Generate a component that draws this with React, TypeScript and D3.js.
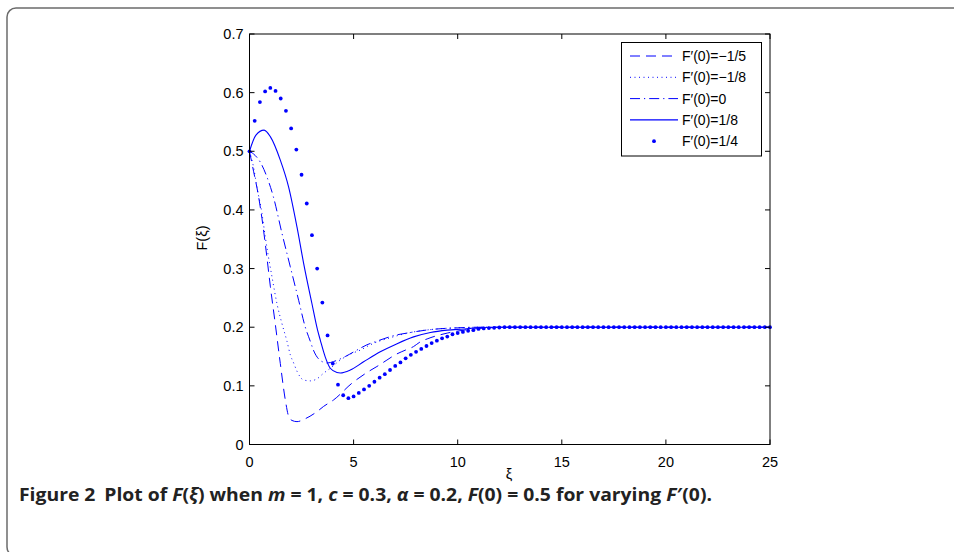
import React from "react";
import * as d3 from "d3";

// ---- data ----
const XI_DASH = [0, 0.2, 0.4, 0.6, 0.8, 1.0, 1.24, 1.48, 1.72, 1.88, 2.04, 2.28, 2.68, 3.24, 3.56, 4.04, 4.92, 5.72, 6.12, 6.6, 7.0, 7.49, 7.88, 8.2, 8.53, 9.5, 10.5, 11.5, 12.5, 25];
const F_DASH = [0.5, 0.465, 0.43, 0.385, 0.33, 0.27, 0.205, 0.138, 0.076, 0.048, 0.041, 0.039, 0.044, 0.056, 0.065, 0.076, 0.1045, 0.1245, 0.133, 0.144, 0.153, 0.161, 0.167, 0.175, 0.18, 0.19, 0.196, 0.199, 0.2, 0.2];

const XI_DOT = [0, 0.2, 0.35, 0.6, 0.75, 0.91, 1.08, 1.32, 1.56, 1.8, 1.96, 2.12, 2.28, 2.6, 2.92, 3.24, 3.56, 3.88, 4.36, 4.84, 5.32, 5.8, 6.85, 7.88, 9.0, 10.0, 11.0, 25];
const F_DOT = [0.5, 0.472, 0.44, 0.394, 0.356, 0.32, 0.286, 0.24, 0.206, 0.176, 0.153, 0.139, 0.125, 0.11, 0.1085, 0.112, 0.1216, 0.13, 0.144, 0.154, 0.161, 0.17, 0.183, 0.192, 0.197, 0.199, 0.2, 0.2];

const XI_DASHDOT = [0, 0.27, 0.51, 0.84, 1.15, 1.56, 1.96, 2.36, 2.68, 2.92, 3.07, 3.48, 3.75, 4.04, 4.6, 5.16, 5.64, 6.1, 7.08, 7.56, 8.7, 10.0, 11.0, 25];
const F_DASHDOT = [0.5, 0.493, 0.482, 0.456, 0.422, 0.36, 0.303, 0.246, 0.2, 0.176, 0.161, 0.1415, 0.139, 0.1415, 0.15, 0.161, 0.17, 0.176, 0.187, 0.19, 0.196, 0.199, 0.2, 0.2];

const XI_SOLID = [0, 0.3, 0.7, 1.0, 1.48, 1.88, 2.28, 2.6, 3.0, 3.27, 3.4, 3.64, 3.88, 4.2, 4.36, 4.84, 5.48, 6.28, 7.09, 7.88, 8.69, 9.49, 10.3, 11.1, 12.0, 25];
const F_SOLID = [0.5, 0.527, 0.536, 0.525, 0.485, 0.439, 0.371, 0.309, 0.24, 0.195, 0.178, 0.149, 0.13, 0.1228, 0.122, 0.127, 0.141, 0.158, 0.172, 0.1835, 0.191, 0.195, 0.197, 0.1995, 0.2, 0.2];

const XI_MARK = [
  0, 0.25, 0.5, 0.75, 1, 1.25, 1.5, 1.75, 2, 2.25, 2.5, 2.75, 3, 3.25, 3.5, 3.75, 4, 4.25, 4.5, 4.75,
  5, 5.25, 5.5, 5.75, 6, 6.25, 6.5, 6.75, 7, 7.25, 7.5, 7.75, 8, 8.25, 8.5, 8.75, 9, 9.25, 9.5, 9.75,
  10, 10.25, 10.5, 10.75, 11, 11.25, 11.5, 11.75, 12, 12.25, 12.5, 12.75, 13, 13.25, 13.5, 13.75, 14,
  14.25, 14.5, 14.75, 15, 15.25, 15.5, 15.75, 16, 16.25, 16.5, 16.75, 17, 17.25, 17.5, 17.75, 18,
  18.25, 18.5, 18.75, 19, 19.25, 19.5, 19.75, 20, 20.25, 20.5, 20.75, 21, 21.25, 21.5, 21.75, 22,
  22.25, 22.5, 22.75, 23, 23.25, 23.5, 23.75, 24, 24.25, 24.5, 24.75, 25,
];
const F_MARK = [
  0.5, 0.552, 0.584, 0.602, 0.608, 0.603, 0.59, 0.569, 0.539, 0.503, 0.46, 0.411, 0.357, 0.3, 0.242,
  0.186, 0.138, 0.102, 0.084, 0.079, 0.082, 0.088, 0.094, 0.1, 0.107, 0.114, 0.12, 0.127, 0.134, 0.14,
  0.147, 0.153, 0.158, 0.163, 0.168, 0.173, 0.177, 0.181, 0.184, 0.188, 0.19, 0.192, 0.194, 0.195,
  0.197, 0.198, 0.1985, 0.199, 0.1995,
  0.2, 0.2, 0.2, 0.2, 0.2, 0.2, 0.2, 0.2, 0.2, 0.2, 0.2, 0.2, 0.2,
  0.2, 0.2, 0.2, 0.2, 0.2, 0.2, 0.2, 0.2, 0.2, 0.2, 0.2, 0.2, 0.2,
  0.2, 0.2, 0.2, 0.2, 0.2, 0.2, 0.2, 0.2, 0.2, 0.2, 0.2, 0.2, 0.2,
  0.2, 0.2, 0.2, 0.2, 0.2, 0.2, 0.2, 0.2, 0.2, 0.2, 0.2, 0.2, 0.2,
];

const X_TICKS = [0, 5, 10, 15, 20, 25];
const Y_TICKS = [0, 0.1, 0.2, 0.3, 0.4, 0.5, 0.6, 0.7];
const LEGEND_LABELS = ["F\u2032(0)=\u22121/5", "F\u2032(0)=\u22121/8", "F\u2032(0)=0", "F\u2032(0)=1/8", "F\u2032(0)=1/4"];

const BLUE = "#0000ff";
const W = 954;
const H = 552;
const PLOT = { left: 249.5, right: 770, top: 34, bottom: 444.5 };

export default function App() {
  const x = d3.scaleLinear().domain([0, 25]).range([PLOT.left, PLOT.right]);
  const y = d3.scaleLinear().domain([0, 0.7]).range([PLOT.bottom, PLOT.top]);
  const mk = (xs: number[], fs: number[]) =>
    d3.line<number>().x((_, i) => x(xs[i])).y((f) => y(f)).curve(d3.curveMonotoneX)(fs) || "";

  const lines = [
    { d: mk(XI_DASH, F_DASH), dash: "10,6", w: 1 },
    { d: mk(XI_DOT, F_DOT), dash: "1,3.5", w: 1 },
    { d: mk(XI_DASHDOT, F_DASHDOT), dash: "10,4,1.2,4", w: 1 },
    { d: mk(XI_SOLID, F_SOLID), dash: "none", w: 1.1 },
  ];

  const font = "'Liberation Sans', Arial, Helvetica, sans-serif";
  const tick = 5;
  const leg = { x: 621.5, y: 42.5, w: 140, h: 113.5 };
  const rowY = (i: number) => 56 + i * 21.3;

  return (
    <svg
      width={W}
      height={H}
      style={{ position: "absolute", left: 0, top: 0, background: "#fff" }}
      xmlns="http://www.w3.org/2000/svg"
    >
      <rect x={0} y={0} width={W} height={H} fill="#fff" />
      {/* frame */}
      <rect x={7} y={8} width={1000} height={548} rx={9} fill="none" stroke="#6b6b6b" strokeWidth={1.5} />

      {/* data lines */}
      <g fill="none" stroke={BLUE}>
        {lines.map((l, i) => (
          <path key={i} d={l.d} strokeDasharray={l.dash} strokeWidth={l.w} />
        ))}
      </g>
      <g fill={BLUE}>
        {XI_MARK.map((xi, i) => (
          <circle key={i} cx={x(xi)} cy={y(F_MARK[i])} r={1.9} />
        ))}
      </g>

      {/* axes box */}
      <rect
        x={PLOT.left}
        y={PLOT.top}
        width={PLOT.right - PLOT.left}
        height={PLOT.bottom - PLOT.top}
        fill="none"
        stroke="#000"
        strokeWidth={1}
      />
      <g stroke="#000" strokeWidth={1}>
        {X_TICKS.map((t) => (
          <g key={"x" + t}>
            <line x1={x(t)} x2={x(t)} y1={PLOT.bottom} y2={PLOT.bottom - tick} />
            <line x1={x(t)} x2={x(t)} y1={PLOT.top} y2={PLOT.top + tick} />
          </g>
        ))}
        {Y_TICKS.map((t) => (
          <g key={"y" + t}>
            <line x1={PLOT.left} x2={PLOT.left + tick} y1={y(t)} y2={y(t)} />
            <line x1={PLOT.right} x2={PLOT.right - tick} y1={y(t)} y2={y(t)} />
          </g>
        ))}
      </g>
      <g fontFamily={font} fontSize={14.5} fill="#000">
        {X_TICKS.map((t) => (
          <text key={"xl" + t} x={x(t)} y={PLOT.bottom + 22} textAnchor="middle">
            {t}
          </text>
        ))}
        {Y_TICKS.map((t) => (
          <text key={"yl" + t} x={PLOT.left - 6} y={y(t) + 5} textAnchor="end">
            {t}
          </text>
        ))}
        <text x={509} y={479} textAnchor="middle">ξ</text>
        <text transform={`translate(207,238) rotate(-90)`} textAnchor="middle">F(ξ)</text>
      </g>

      {/* legend */}
      <rect x={leg.x} y={leg.y} width={leg.w} height={leg.h} fill="#fff" stroke="#000" strokeWidth={1} />
      <g fontFamily={font} fontSize={14} fill="#000">
        {LEGEND_LABELS.map((lab, i) => (
          <g key={lab}>
            {i < 4 ? (
              <line
                x1={630}
                x2={678}
                y1={rowY(i)}
                y2={rowY(i)}
                stroke={BLUE}
                strokeWidth={lines[i].w}
                strokeDasharray={lines[i].dash}
              />
            ) : (
              <circle cx={654} cy={rowY(i)} r={1.9} fill={BLUE} />
            )}
            <text x={682} y={rowY(i) + 5}>
              {lab}
            </text>
          </g>
        ))}
      </g>

      {/* caption */}
      <text
        x={19}
        y={501}
        fontFamily="'Open Sans', 'Noto Sans', sans-serif"
        fontWeight="bold"
        fontSize={17.5}
        fill="#222"
        textLength={693}
        lengthAdjust="spacingAndGlyphs"
      >
        <tspan>Figure 2</tspan>
        <tspan dx={8}>Plot of </tspan>
        <tspan fontStyle="italic">F</tspan>
        <tspan>(</tspan>
        <tspan fontStyle="italic">ξ</tspan>
        <tspan>) when </tspan>
        <tspan fontStyle="italic">m</tspan>
        <tspan> = 1, </tspan>
        <tspan fontStyle="italic">c</tspan>
        <tspan> = 0.3, </tspan>
        <tspan fontStyle="italic">α</tspan>
        <tspan> = 0.2, </tspan>
        <tspan fontStyle="italic">F</tspan>
        <tspan>(0) = 0.5 for varying </tspan>
        <tspan fontStyle="italic">F</tspan>
        <tspan>′(0).</tspan>
      </text>
    </svg>
  );
}
